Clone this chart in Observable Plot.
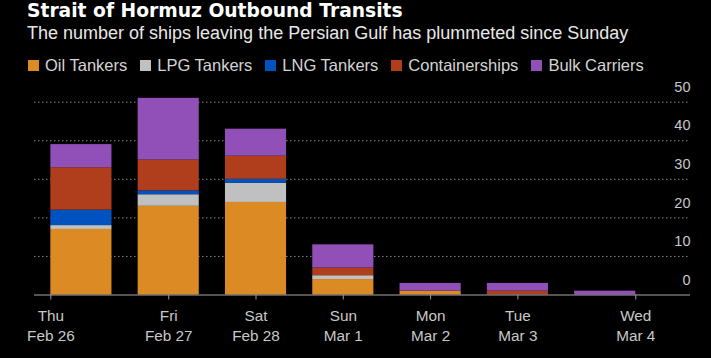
<!DOCTYPE html>
<html>
<head>
<meta charset="utf-8">
<script src="https://cdn.jsdelivr.net/npm/d3@7"></script>
<script src="https://cdn.jsdelivr.net/npm/@observablehq/plot@0.6"></script>
<style>
  html, body { margin: 0; padding: 0; background: #000; }
  #wrap { position: relative; width: 711px; height: 358px; background: #000; overflow: hidden; }
  #header { position: relative; height: 80px; }
  .title { position: absolute; left: 27px; top: 1.5px; font-family: "DejaVu Sans", sans-serif; font-weight: bold; font-size: 18.7px; line-height: 1; color: #fff; white-space: nowrap; }
  .subtitle { position: absolute; left: 27px; top: 23.8px; font-family: "Liberation Sans", Arial, sans-serif; font-size: 18px; line-height: 1; color: #e8e8e8; white-space: nowrap; }
  .legend { position: absolute; left: 28px; top: 57px; font-family: "Liberation Sans", Arial, sans-serif; font-size: 16.5px; line-height: 1; color: #d4d4d4; white-space: nowrap; display: flex; }
  .legend .item { display: inline-block; margin-right: 13px; }
  .legend .sw { display: inline-block; width: 11px; height: 11px; margin-right: 6px; vertical-align: baseline; }
  #chart { position: absolute; left: 0; top: 80px; }
</style>
</head>
<body>
<div id="wrap">
  <div id="header">
    <div class="title">Strait of Hormuz Outbound Transits</div>
    <div class="subtitle">The number of ships leaving the Persian Gulf has plummeted since Sunday</div>
    <div class="legend" id="legend"></div>
  </div>
  <div id="chart"></div>
</div>
<script>
const weekdays = ["Thu", "Fri", "Sat", "Sun", "Mon", "Tue", "Wed"];
const dates = ["Feb 26", "Feb 27", "Feb 28", "Mar 1", "Mar 2", "Mar 3", "Mar 4"];
const series = ["Oil Tankers", "LPG Tankers", "LNG Tankers", "Containerships", "Bulk Carriers"];
const colors = ["#db8a24", "#c0c0c0", "#0052be", "#b03d1c", "#9050b8"];
const oilTankers = [17, 23, 24, 4, 1, 0, 0];
const lpgTankers = [1, 3, 5, 1, 0, 0, 0];
const lngTankers = [4, 1, 1, 0, 0, 0, 0];
const containerships = [11, 8, 6, 2, 0, 1, 0];
const bulkCarriers = [6, 16, 7, 6, 2, 2, 1];
const yTicks = [0, 10, 20, 30, 40, 50];

const seriesValues = [oilTankers, lpgTankers, lngTankers, containerships, bulkCarriers];
const data = [];
dates.forEach((d, i) => {
  series.forEach((s, j) => {
    data.push({date: d, type: s, value: seriesValues[j][i]});
  });
});

// legend
const legend = document.getElementById("legend");
series.forEach((s, j) => {
  const item = document.createElement("span");
  item.className = "item";
  const sw = document.createElement("span");
  sw.className = "sw";
  sw.style.background = colors[j];
  item.appendChild(sw);
  item.appendChild(document.createTextNode(s));
  legend.appendChild(item);
});

const labelOf = d => weekdays[dates.indexOf(d)] + "\n" + d;
const bw = 87.3 * 0.7 / 2;
const axisCommon = {
  label: null,
  tickSize: 5,
  tickPadding: 7,
  stroke: "#9a9a9a",
  color: "#c8c8c8",
  fontSize: 15.3,
  lineHeight: 1.3,
  tickFormat: labelOf,
  fontFamily: "Liberation Sans, Arial, sans-serif"
};

const chart = Plot.plot({
  width: 711,
  height: 278,
  marginTop: 21.7,
  marginBottom: 63.5,
  marginLeft: 34,
  marginRight: 21,
  style: {background: "#000", color: "#c8c8c8", fontFamily: "Liberation Sans, Arial, sans-serif"},
  x: {domain: dates, paddingInner: 0.3, paddingOuter: 0.407, align: 0.23, round: false, axis: null, label: null},
  y: {domain: [0, 50], axis: null, label: null},
  color: {domain: series, range: colors},
  marks: [
    Plot.gridY(yTicks.filter(d => d > 0), {stroke: "#8a8a8a", strokeOpacity: 1, strokeDasharray: "1.5,2.5"}),
    Plot.barY(data, {x: "date", y: "value", fill: "type"}),
    Plot.ruleY([0], {stroke: "#a8a8a8", strokeWidth: 1.2}),
    Plot.axisX(dates.slice(1, -1), axisCommon),
    Plot.axisX([dates[0]], {...axisCommon, dx: -bw}),
    Plot.axisX([dates[dates.length - 1]], {...axisCommon, dx: bw}),
    Plot.axisY(yTicks, {label: null, anchor: "right", tickSize: 0, tickPadding: 0, textAnchor: "end", dy: -15, fontSize: 14.5, color: "#c8c8c8"})
  ]
});
document.getElementById("chart").appendChild(chart);
</script>
</body>
</html>
